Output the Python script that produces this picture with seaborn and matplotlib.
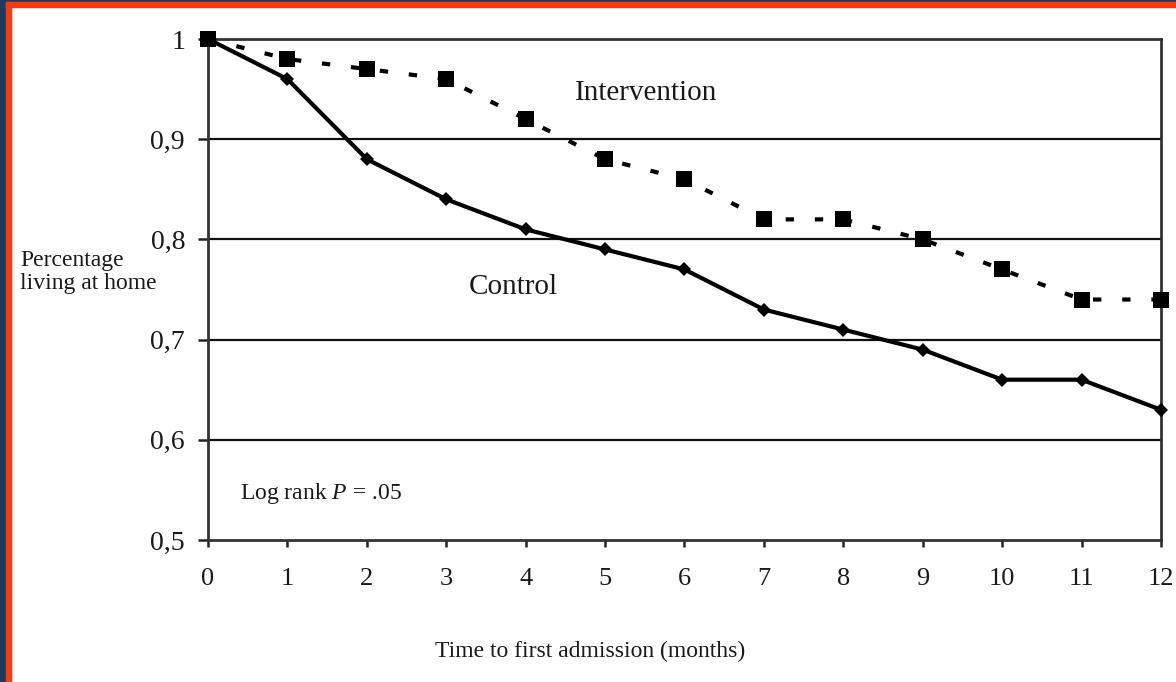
import matplotlib
matplotlib.use("Agg")
import matplotlib.pyplot as plt
import numpy as np
import pandas as pd
import seaborn as sns
from matplotlib.patches import Rectangle

# data
months = list(range(13))
control = [1.0, 0.96, 0.88, 0.84, 0.81, 0.79, 0.77, 0.73, 0.71, 0.69, 0.66, 0.66, 0.63]
intervention = [1.0, 0.98, 0.97, 0.96, 0.92, 0.88, 0.86, 0.82, 0.82, 0.80, 0.77, 0.74, 0.74]
y_ticks = [0.5, 0.6, 0.7, 0.8, 0.9, 1.0]
y_labels = ["0,5", "0,6", "0,7", "0,8", "0,9", "1"]

df = pd.concat([
    pd.DataFrame({"month": months, "value": control, "group": "Control"}),
    pd.DataFrame({"month": months, "value": intervention, "group": "Intervention"}),
])

sns.set_style("ticks")
plt.rcParams["font.family"] = ["Liberation Serif", "DejaVu Serif"]
plt.rcParams["mathtext.fontset"] = "custom"
plt.rcParams["mathtext.it"] = "Liberation Serif:italic"
plt.rcParams["mathtext.rm"] = "Liberation Serif"

TXT = "#1a1a1a"

fig = plt.figure(figsize=(11.76, 6.82), dpi=100)
ax = fig.add_axes([0.1769, 0.2082, 0.8103, 0.7346])

# frame around the picture
fig.patches.append(Rectangle((0, 0), 6 / 1176, 1, transform=fig.transFigure,
                             color="#1f3a5c", zorder=-2))
fig.patches.append(Rectangle((0, 1 - 2 / 682), 1, 2 / 682, transform=fig.transFigure,
                             color="#1f3a5c", zorder=-2))
fig.patches.append(Rectangle((6 / 1176, 0), 5 / 1176, 1 - 2 / 682, transform=fig.transFigure,
                             color="#fc3a0e", zorder=-1))
fig.patches.append(Rectangle((6 / 1176, 1 - 7 / 682), 1, 5 / 682, transform=fig.transFigure,
                             color="#fc3a0e", zorder=-1))

for yv in y_ticks[1:-1]:
    ax.axhline(yv, color="#111111", lw=1.6, zorder=1)

sns.lineplot(data=df[df.group == "Control"], x="month", y="value", ax=ax,
             color="black", lw=3, marker="D", markersize=7, markeredgewidth=0,
             zorder=4, clip_on=False)
sns.lineplot(data=df[df.group == "Intervention"], x="month", y="value", ax=ax,
             color="black", lw=3, marker="s", markersize=11, markeredgewidth=0,
             zorder=3, clip_on=False, dashes=False)
ax.lines[-1].set_dashes([2, 5])

ax.set_xlim(0, 12)
ax.set_ylim(0.5, 1.0)
ax.set_xticks(months)
ax.set_xticklabels([str(m) for m in months], fontsize=19)
ax.set_yticks(y_ticks)
ax.set_yticklabels(y_labels, fontsize=20)
ax.tick_params(axis="x", direction="out", length=5, width=1.8, pad=15, colors="#222222")
ax.tick_params(axis="y", direction="out", length=7, width=1.8, pad=9.5, colors="#222222")
for lab in ax.get_xticklabels() + ax.get_yticklabels():
    lab.set_color(TXT)
for s in ax.spines.values():
    s.set_color("#333333")
    s.set_linewidth(2)
ax.set_xlabel("")
ax.set_ylabel("")

ax.text(5.52, 0.946, "Intervention", fontsize=21, ha="center", va="center", color=TXT)
ax.text(3.85, 0.753, "Control", fontsize=21, ha="center", va="center", color=TXT)
ax.text(0.40, 0.546, "Log rank $\\mathit{P}$ = .05", fontsize=17, ha="left", va="center",
        color=TXT)

fig.text(20 / 1176, 1 - 272 / 682, "Percentage\nliving at home", fontsize=17,
         ha="left", va="center", linespacing=1.15, color=TXT)
fig.text(590 / 1176, 1 - 651 / 682, "Time to first admission (months)", fontsize=17,
         ha="center", va="center", color=TXT)

fig.savefig("out.png", dpi=100)
